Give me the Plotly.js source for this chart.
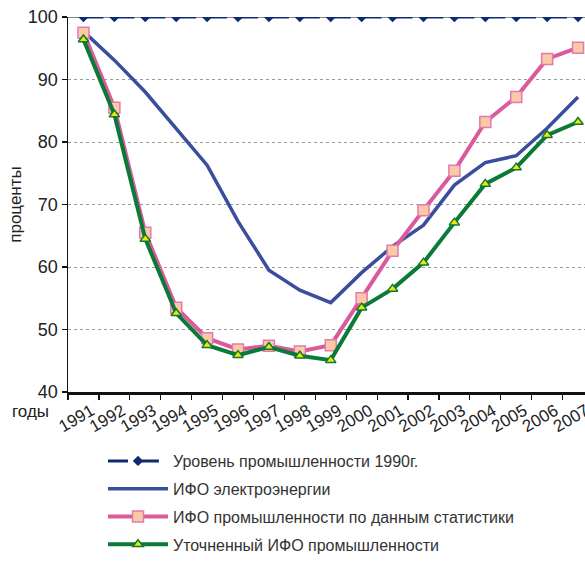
<!DOCTYPE html>
<html>
<head>
<meta charset="utf-8">
<script src="https://cdn.plot.ly/plotly-3.0.1.min.js"></script>
<style>
html,body{margin:0;padding:0;background:#fff;overflow:hidden;}
#chart{width:585px;height:562px;}
</style>
</head>
<body>
<div id="chart"></div>
<script>
const years = [1991,1992,1993,1994,1995,1996,1997,1998,1999,2000,2001,2002,2003,2004,2005,2006,2007];
const level1990 = [100,100,100,100,100,100,100,100,100,100,100,100,100,100,100,100,100];
const electricity = [97.7,93.1,88.0,82.2,76.3,67.3,59.5,56.3,54.3,59.1,63.3,66.7,73.1,76.7,77.8,82.2,87.2];
const industryStat = [97.5,85.5,65.5,53.5,48.6,46.8,47.4,46.5,47.5,55.0,62.6,69.1,75.4,83.2,87.2,93.3,95.1];
const industryRefined = [96.4,84.4,64.5,52.6,47.5,45.9,47.2,45.8,45.1,53.5,56.5,60.7,67.1,73.3,75.9,81.1,83.2];
const seriesNames = ['Уровень промышленности 1990г.','ИФО электроэнергии','ИФО промышленности по данным статистики','Уточненный ИФО промышленности'];
const yTicks = [40,50,60,70,80,90,100];

const font = 'Liberation Sans, Arial, sans-serif';

const traces = [
  {x: years, y: level1990, name: seriesNames[0], mode: 'lines+markers', legendgroup: 'a',
   line: {color: '#0E2A70', width: 3, dash: '20px,10.9px'},
   marker: {symbol: 'diamond', size: 8, color: '#0E2A70'}},
  {x: years, y: electricity, name: seriesNames[1], mode: 'lines', legendgroup: 'b',
   line: {color: '#3A4E9E', width: 3.5}},
  {x: years, y: industryStat, name: seriesNames[2], mode: 'lines+markers', legendgroup: 'c',
   line: {color: '#DA5A9C', width: 4},
   marker: {symbol: 'square', size: 11, color: '#FCC9A4', line: {color: '#E27AB2', width: 1.5}}},
  {x: years, y: industryRefined, name: seriesNames[3], mode: 'lines+markers', legendgroup: 'd',
   line: {color: '#0B7A36', width: 4},
   marker: {symbol: 'triangle-up', size: 9, color: '#F2E600', line: {color: '#0B7A36', width: 1.5}}}
];

const layout = {
  width: 585, height: 562,
  margin: {l: 68, r: 0, t: 17, b: 170},
  paper_bgcolor: '#fff', plot_bgcolor: '#fff',
  font: {family: font, color: '#222', size: 15},
  showlegend: true,
  legend: {xref: 'paper', yref: 'container', x: (103-68)/517, xanchor: 'left', y: 0, yanchor: 'bottom',
           font: {family: font, size: 16, color: '#333'}, tracegroupgap: 4, itemwidth: 60,
           bgcolor: 'rgba(0,0,0,0)'},
  xaxis: {
    type: 'linear', range: [1990.5, 2007.225],
    tickmode: 'array', tickvals: years, ticktext: years.map(String), ticklabelshift: 8,
    ticklabeloverflow: 'allow',
    ticks: '', tickangle: -30, tickfont: {family: font, size: 17, color: '#222'},
    showgrid: false, zeroline: false,
    showline: true, linecolor: '#111', linewidth: 2.5,
    minor: {ticks: 'outside', tick0: 1990.5, dtick: 1, ticklen: 5, tickcolor: '#111', tickwidth: 1.2, showgrid: false},
    fixedrange: true
  },
  yaxis: {
    range: [40, 100], tickmode: 'array', tickvals: yTicks,
    ticks: 'outside', ticklen: 5, tickcolor: '#111', tickwidth: 1.2,
    tickfont: {family: font, size: 18, color: '#222'},
    showgrid: true, gridcolor: '#9a9a9a', griddash: 'dot', gridwidth: 1,
    zeroline: false, showline: true, linecolor: '#111', linewidth: 1.5,
    title: {text: 'проценты', font: {family: font, size: 17, color: '#222'}, standoff: 2},
    fixedrange: true
  },
  shapes: [
    {type: 'line', xref: 'paper', yref: 'y', x0: 0, x1: 1, y0: 100, y1: 100,
     line: {color: '#111', width: 1}, layer: 'below'}
  ],
  annotations: [
    {text: 'годы', xref: 'paper', yref: 'paper', x: (10-68)/517, y: (392-412)/375, xanchor: 'left', yanchor: 'middle',
     showarrow: false, font: {family: font, size: 17, color: '#222'}}
  ]
};

Plotly.newPlot('chart', traces, layout, {displayModeBar: false, staticPlot: true});
</script>
</body>
</html>
